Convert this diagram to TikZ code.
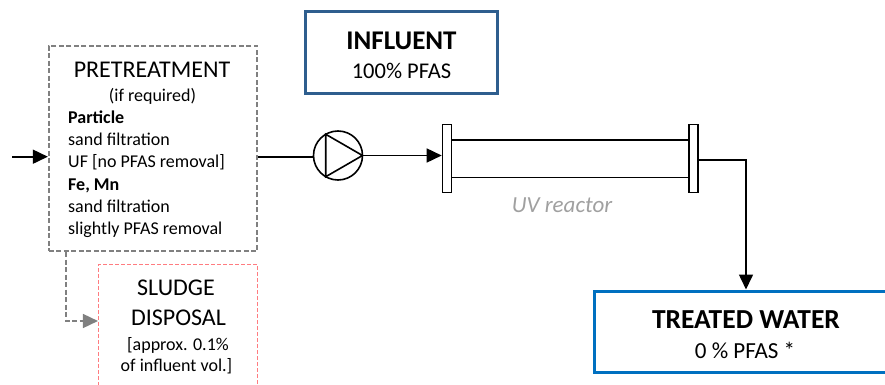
\documentclass[tikz,border=0pt]{standalone}
\usepackage{fontspec}
\setmainfont{Carlito}
\usetikzlibrary{arrows.meta}
\definecolor{pregray}{HTML}{808080}
\definecolor{sludgered}{HTML}{FF7C80}
\definecolor{inblue}{HTML}{2E5E8E}
\definecolor{outblue}{HTML}{0070C0}
\definecolor{uvgray}{HTML}{A0A0A0}
\tikzset{
    normal/.style={draw, line width=1.6pt},
    e/.style={style=normal, -{Triangle[length=15pt, width=14pt]}}, % flow lines
    de/.style={style=e, color=pregray, dash pattern=on 5pt off 2.5pt}, % sludge line
    pre/.style={draw=pregray, line width=1.8pt, dash pattern=on 5pt off 2.5pt, minimum width=208.5pt, minimum height=205.5pt},
    sl/.style={draw=sludgered, line width=1.5pt, dash pattern=on 4pt off 2pt, minimum width=158.6pt, minimum height=165pt},
    io/.style={line width=3pt, inner sep=0pt}, % influent and effluent boxes
    fl/.style={style=normal, minimum width=9pt, minimum height=68pt, inner sep=0pt}, % reactor flanges
    t/.style={inner sep=0pt, anchor=base}, % text lines
    big/.style={font=\fontsize{24}{28}\selectfont},
    small/.style={font=\fontsize{18}{22}\selectfont}
}

\begin{document}
\begin{tikzpicture}[x=1pt, y=-1pt]
        \useasboundingbox (0,0) rectangle (885,385);
        \clip (0,0) rectangle (885,385);

        \node[pre] (pre) at (153, 148.5) {};
        \node[t, big] (preT) at (152, 77.3)
        {PRETREATMENT};
        \node[t, small] (preR) at (152.5, 101.7)
        {(if required)};
        \foreach \txt [count=\i from 0] in {{\textbf{Particle}}, {sand filtration}, {UF [no PFAS removal]}, {\textbf{Fe, Mn}}, {sand filtration}, {slightly PFAS removal}}
            \node[t, small, anchor=base west] (pre\i) at (68, 123.3+22.3*\i) {\txt};

        \node[sl] (sludge) at (178, 347) {};
        \node[t, big] (slT) at (176, 295)
        {SLUDGE};
        \node[t, big] (slD) at (178.5, 325)
        {DISPOSAL};
        \node[t, small] (slA) at (178, 350)
        {[approx. 0.1\%};
        \node[t, small] (slV) at (176.5, 371)
        {of influent vol.]};

        \node[io, draw=inblue, minimum width=192pt, minimum height=82pt] (in) at (401, 53) {};
        \node[t, font=\fontsize{27}{30}\selectfont\bfseries] (inT) at (401.5, 49.3)
        {INFLUENT};
        \node[t, font=\fontsize{22.5}{26}\selectfont] (inP) at (401.5, 79)
        {100\% PFAS};

        \node[io, draw=outblue, minimum width=304pt, minimum height=81pt] (treated) at (746, 331.5) {};
        \node[t, font=\fontsize{27.5}{30}\selectfont\bfseries] (trT) at (746, 328.3)
        {TREATED WATER};
        \node[t, font=\fontsize{23}{26}\selectfont] (trP) at (745, 358.3)
        {0 \% PFAS *};

        \node[normal, circle, minimum size=49pt, inner sep=0pt, outer sep=0pt] (pump) at (338, 155.5) {};
        \draw[normal, line join=miter] (pump.120) -- (pump.0) -- (pump.-120) -- cycle;

        \node[fl] (flL) at (447, 158.5) {};
        \node[fl] (flR) at (693.2, 158.5) {};
        \draw[normal] ([yshift=18.5pt]flL.east) -- ([yshift=18.5pt]flR.west);
        \draw[normal] ([yshift=-19pt]flL.east) -- ([yshift=-19pt]flR.west);
        \node[t, font=\fontsize{23}{26}\selectfont\itshape, text=uvgray] (uv) at (562, 212.7)
        {UV reactor};

        \coordinate (src) at (12, 156.7);
        \draw[e] (src) -- (src -| pre.west);
        \draw[normal] (pre.east |- src) -- (pump.west |- src);
        \draw[e] (pump.east) -- (pump.east -| flL.west);
        \draw[e] ([yshift=-1.5pt]flR.east) -| (treated.north);
        \draw[de] ([xshift=-87pt]pre.south) |- ([yshift=26pt]sludge.west);
      \end{tikzpicture}
\end{document}
